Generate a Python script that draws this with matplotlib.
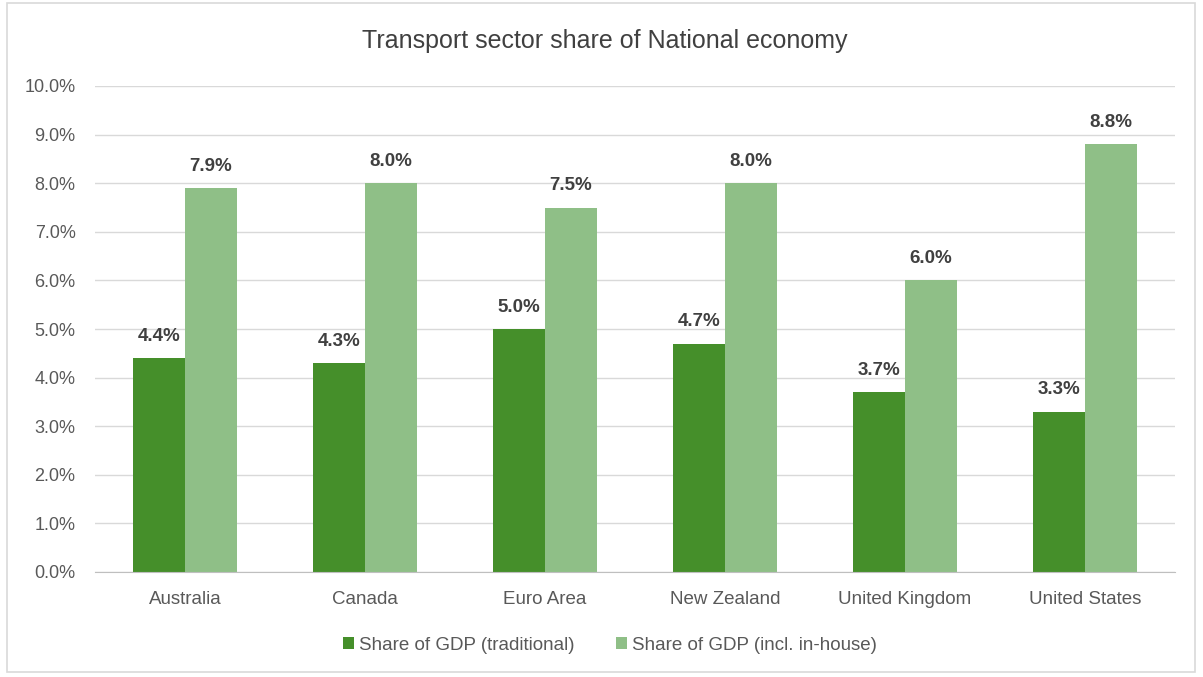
import matplotlib
matplotlib.use("Agg")
import matplotlib.pyplot as plt
import numpy as np
from matplotlib.patches import Rectangle

categories = ["Australia", "Canada", "Euro Area", "New Zealand", "United Kingdom", "United States"]
traditional = [4.4, 4.3, 5.0, 4.7, 3.7, 3.3]
inhouse = [7.9, 8.0, 7.5, 8.0, 6.0, 8.8]
series_names = ["Share of GDP (traditional)", "Share of GDP (incl. in-house)"]
yticks = [0, 1, 2, 3, 4, 5, 6, 7, 8, 9, 10]
title = "Transport sector share of National economy"

dark = "#458F2A"
light = "#8FBF87"
txt = "#595959"

plt.rcParams['font.family'] = ['Liberation Sans', 'DejaVu Sans']

W, H = 1203, 677
fig = plt.figure(figsize=(W / 100, H / 100), dpi=100)
fig.patches.append(Rectangle((7 / W, 1 - 672 / H), (1195 - 7) / W, (672 - 3) / H,
                             transform=fig.transFigure, fill=False, edgecolor="#D9D9D9", lw=1.2))

left, right, top, bottom = 95, 1175, 86, 572
ax = fig.add_axes([left / W, 1 - bottom / H, (right - left) / W, (bottom - top) / H])

x = np.arange(len(categories))
bw = 0.289
b1 = ax.bar(x - bw / 2, traditional, bw, color=dark, label=series_names[0])
b2 = ax.bar(x + bw / 2, inhouse, bw, color=light, label=series_names[1])

for bars, vals in ((b1, traditional), (b2, inhouse)):
    for b, v in zip(bars, vals):
        ax.annotate(f"{v:.1f}%", (b.get_x() + b.get_width() / 2, v), xytext=(0, 9.5),
                    textcoords="offset points", ha="center", va="bottom",
                    fontsize=13.5, fontweight="bold", color="#404040")

ax.set_xlim(-0.5, len(categories) - 0.5)
ax.set_ylim(0, 10)
ax.set_yticks(yticks)
ax.set_yticklabels([f"{t:.1f}%" for t in yticks], fontsize=13, color=txt)
ax.set_xticks(x)
ax.set_xticklabels(categories, fontsize=13.5, color=txt)
ax.tick_params(axis="both", length=0)
ax.tick_params(axis="y", pad=14)
ax.tick_params(axis="x", pad=14)
ax.grid(axis="y", color="#D9D9D9", lw=1)
ax.set_axisbelow(True)
for s in ("top", "right", "left"):
    ax.spines[s].set_visible(False)
ax.spines["bottom"].set_color("#BFBFBF")

fig.text(605 / W, 1 - 41 / H, title, ha="center", va="center", fontsize=18, color="#404040")

fig.legend(handles=[b1, b2], labels=series_names, loc="center", bbox_to_anchor=(610 / W, 1 - 645 / H),
           ncol=2, frameon=False, fontsize=13.5, handlelength=0.6, handleheight=0.6,
           handletextpad=0.27, columnspacing=2.2, labelcolor=txt)

fig.savefig("out.png", dpi=100)
